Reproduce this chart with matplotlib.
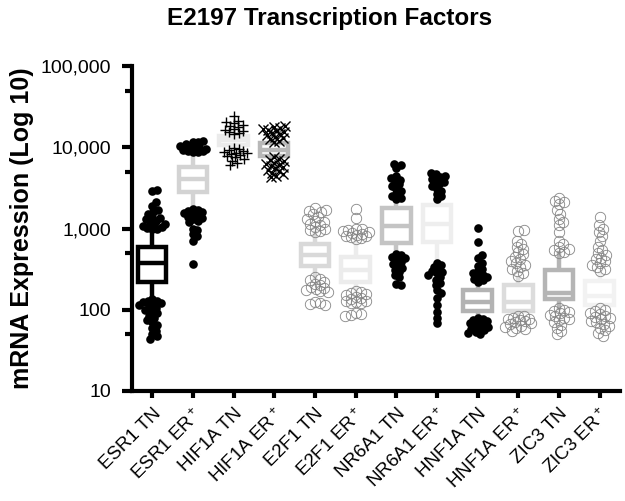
import matplotlib
matplotlib.use("Agg")
import matplotlib.pyplot as plt
import matplotlib.ticker as mticker
import numpy as np

plt.rcParams['font.family'] = ['Liberation Sans', 'DejaVu Sans']
plt.rcParams['mathtext.default'] = 'regular'

# categories and box statistics
categories = ['ESR1 TN', 'ESR1 ER$^+$', 'HIF1A TN', 'HIF1A ER$^+$',
              'E2F1 TN', 'E2F1 ER$^+$', 'NR6A1 TN', 'NR6A1 ER$^+$',
              'HNF1A TN', 'HNF1A ER$^+$', 'ZIC3 TN', 'ZIC3 ER$^+$']
whis_lo = [140, 1790, 10500, 7800, 253, 175, 499, 387, 81, 86, 105, 105]
q1 = [220, 2810, 10700, 7800, 345, 220, 663, 682, 97, 97, 135, 114]
median = [376, 4070, 12300, 9250, 472, 308, 1074, 1135, 125, 125, 161, 148]
q3 = [592, 5710, 13700, 11300, 644, 446, 1790, 1945, 175, 202, 308, 226]
whis_hi = [959, 8490, 14000, 11500, 881, 721, 2240, 2240, 213, 246, 499, 283]

# points outside the whiskers
upper = [
    [3000, 2900, 2100, 1900, 1700, 1600, 1500, 1400, 1350, 1300, 1250, 1200,
     1150, 1100, 1080, 1050, 1020, 1000, 980],
    [12000, 11800, 11500, 11000, 10500, 10200, 10000, 9800, 9500, 9300,
     9100, 9000, 8800, 8700],
    [24500, 21000, 20500, 20000, 19000, 18500, 18000, 17000, 16500, 16000,
     15500, 15000, 14500],
    [18500, 18000, 17500, 17000, 16500, 16000, 15500, 15000, 14500, 14000,
     13500, 13000, 12500, 12000, 11800],
    [1800, 1700, 1650, 1600, 1500, 1400, 1300, 1250, 1200, 1150, 1100, 1050,
     1000, 950, 920, 900],
    [1750, 1340, 1000, 980, 950, 920, 900, 880, 860, 840, 820, 800, 780, 760,
     740],
    [6300, 6000, 5600, 4500, 4200, 4000, 3800, 3500, 3300, 3100, 2900, 2700,
     2500, 2400, 2300],
    [4800, 4700, 4500, 4300, 4100, 3900, 3700, 3500, 3300, 3100, 2900, 2700,
     2500, 2300],
    [1020, 680, 470, 430, 380, 350, 320, 300, 280, 270, 260, 250, 240, 230,
     220],
    [960, 940, 700, 650, 600, 560, 520, 480, 450, 420, 400, 380, 360, 340,
     320, 300, 280, 260],
    [2400, 2200, 2100, 2000, 1700, 1500, 1300, 1200, 1100, 900, 700, 650,
     600, 560, 540, 520, 500],
    [1400, 1100, 1000, 900, 800, 700, 600, 550, 500, 470, 440, 420, 400, 380,
     360, 340, 320, 300],
]
lower = [
    [135, 130, 128, 125, 120, 118, 115, 110, 105, 100, 95, 90, 85, 80, 75,
     70, 65, 60, 55, 50, 47, 44],
    [1750, 1700, 1650, 1600, 1550, 1500, 1450, 1400, 1350, 1300, 1250, 1200,
     1000, 950, 850, 800, 700, 370],
    [9700, 9500, 9300, 9000, 8800, 8600, 8400, 8200, 8000, 7800, 7500, 7200,
     6800, 6500, 6000],
    [7500, 7200, 7000, 6800, 6500, 6300, 6100, 5900, 5700, 5500, 5300, 5100,
     4900, 4700, 4500, 4300],
    [250, 240, 230, 220, 210, 200, 190, 185, 180, 175, 170, 165, 125, 120,
     118, 115],
    [172, 165, 160, 155, 150, 145, 140, 135, 130, 128, 125, 122, 120, 90, 88,
     86, 85],
    [490, 470, 450, 430, 410, 390, 370, 350, 330, 310, 290, 270, 250, 205,
     200],
    [380, 360, 340, 320, 300, 290, 280, 270, 250, 230, 215, 200, 175, 160,
     140, 115, 95, 80, 69],
    [80, 78, 75, 73, 70, 68, 66, 64, 62, 60, 58, 56, 54, 52, 50],
    [85, 83, 80, 78, 76, 74, 72, 70, 68, 66, 64, 62, 60, 58, 55],
    [104, 100, 97, 94, 90, 87, 84, 80, 77, 74, 70, 65, 60, 55, 50],
    [104, 100, 96, 92, 88, 85, 82, 79, 76, 73, 70, 67, 64, 60, 56, 52, 48],
]

box_colors = ['#000000', '#d3d3d3', '#ebebeb', '#b8b8b8', '#d9d9d9', '#ececec',
              '#c4c4c4', '#eeeeee', '#b3b3b3', '#dcdcdc', '#b5b5b5', '#f2f2f2']
markers = ['filled', 'filled', 'plus', 'cross', 'open', 'open',
           'filled', 'filled', 'filled', 'open', 'open', 'open']

fig = plt.figure(figsize=(6.25, 5.01), dpi=100)
ax = fig.add_axes([0.211, 0.2196, 0.781, 0.6484])
ax.set_yscale('log')
ax.set_ylim(10, 100000)
ax.set_xlim(-0.5, len(categories) - 0.5)

stats = []
for i in range(len(categories)):
    stats.append(dict(med=median[i], q1=q1[i], q3=q3[i],
                      whislo=whis_lo[i], whishi=whis_hi[i], fliers=[]))
bp = ax.bxp(stats, positions=range(len(categories)), widths=0.7,
            showcaps=False, showfliers=False, patch_artist=True)
for i, c in enumerate(box_colors):
    bp['boxes'][i].set(facecolor='white', edgecolor=c, linewidth=3.2, zorder=2)
    bp['medians'][i].set(color=c, linewidth=3.2, zorder=2)
    for w in bp['whiskers'][2 * i:2 * i + 2]:
        w.set(color=c, linewidth=3.2, zorder=1)

# simple beeswarm offsets, worked out in pixel space
fig.canvas.draw()
px_per_x = ax.transData.transform((1, 100))[0] - ax.transData.transform((0, 100))[0]


def swarm(values, d, max_off):
    ys = [ax.transData.transform((0, v))[1] for v in values]
    placed = []
    offs = []
    for y in ys:
        best = None
        bestcost = None
        for k in range(0, 60):
            for s in ((1,) if k == 0 else (1, -1)):
                off = s * k * 0.5
                if abs(off) > max_off:
                    continue
                cost = sum(max(0, d * d - ((off - px) ** 2 + (y - py) ** 2)) for px, py in placed)
                if cost == 0:
                    best = off
                    break
                if bestcost is None or cost < bestcost:
                    bestcost, bcand = cost, off
            if best is not None:
                break
        if best is None:
            best = bcand
        placed.append((best, y))
        offs.append(best / px_per_x)
    return offs


for i in range(len(categories)):
    kind = markers[i]
    d = 4.8 if kind != 'open' else 5.2
    for grp in (sorted(upper[i]), sorted(lower[i], reverse=True)):
        offs = swarm(grp, d, 13)
        xs = [i + o for o in offs]
        if kind == 'filled':
            ax.plot(xs, grp, 'o', ms=6.2, color='black', mew=0, zorder=3)
        elif kind == 'open':
            ax.plot(xs, grp, 'o', ms=7.5, mfc='none', mec='#858585', mew=0.6, zorder=3)
        elif kind == 'plus':
            ax.plot(xs, grp, '+', ms=7.5, color='black', mew=1.0, zorder=3)
        else:
            ax.plot(xs, grp, 'x', ms=7.5, color='black', mew=1.0, zorder=3)

ax.spines['top'].set_visible(False)
ax.spines['right'].set_visible(False)
ax.spines['left'].set_linewidth(3)
ax.spines['bottom'].set_linewidth(3)

ax.yaxis.set_major_locator(mticker.FixedLocator([10, 100, 1000, 10000, 100000]))
ax.yaxis.set_minor_locator(mticker.FixedLocator([50, 500, 5000, 50000]))
ax.yaxis.set_major_formatter(mticker.FuncFormatter(lambda v, p: f'{int(v):,}'))
ax.yaxis.set_minor_formatter(mticker.NullFormatter())
ax.tick_params(axis='y', which='major', length=7, width=3, labelsize=14, pad=8)
ax.tick_params(axis='y', which='minor', length=5, width=3)
ax.set_xticks(range(len(categories)))
ax.set_xticklabels(categories, rotation=45, ha='right', rotation_mode='anchor')
ax.tick_params(axis='x', length=5, width=3, labelsize=13.5, pad=5)

ax.set_ylabel('mRNA Expression (Log 10)', fontsize=18, fontweight='bold', labelpad=5)
fig.text(0.528, 0.964, 'E2197 Transcription Factors', fontsize=17.5,
         fontweight='bold', ha='center', va='center')

fig.savefig('out.png', dpi=100)
